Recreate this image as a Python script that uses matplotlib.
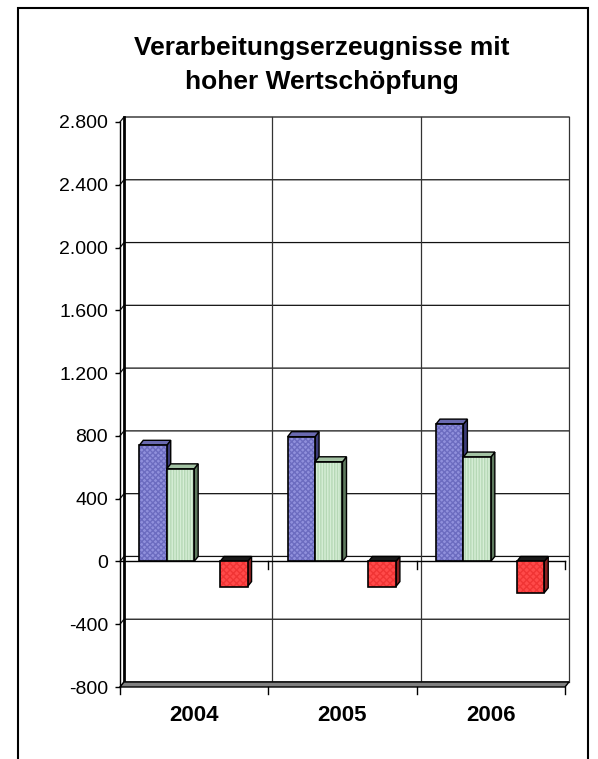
import matplotlib.pyplot as plt
from matplotlib.patches import Polygon, Rectangle

# values (3d-style Excel bar chart)
years = ["2004", "2005", "2006"]
vals_blue = [740, 795, 875]
vals_green = [590, 635, 665]
vals_red = [-160, -160, -200]
y_ticks = [-800, -400, 0, 400, 800, 1200, 1600, 2000, 2400, 2800]

plt.rcParams["font.family"] = ["Liberation Sans", "DejaVu Sans"]
plt.rcParams["hatch.linewidth"] = 1.0

W, H = 598, 759
fig = plt.figure(figsize=(W / 100, H / 100), dpi=100)
ax = fig.add_axes([120 / W, 72 / H, 445 / W, 565 / H])
ax.set_xlim(-0.5, 2.5)
ax.set_ylim(-800, 2800)
for name, s in ax.spines.items():
    s.set_visible(name == "left")
ax.spines["left"].set_linewidth(1)

# depth of the fake 3d, pixels turned into data units
dx = 4 * 3.0 / 445
dy = 5 * 3600.0 / 565
px_y = 3600.0 / 565

# back wall and left wall gridlines
for v in y_ticks:
    ax.plot([-0.5, -0.5 + dx, 2.5 + dx], [v, v + dy, v + dy], color="#111111",
            lw=0.9, clip_on=False, zorder=1)
for b in [0.5, 1.5, 2.5]:
    ax.plot([b + dx, b + dx], [-800 + dy, 2800 + dy], color="#333333", lw=0.9,
            clip_on=False, zorder=1)
ax.plot([-0.5 + dx, -0.5 + dx], [-800 + dy, 2800 + dy], color="black", lw=2,
        clip_on=False, zorder=1)

# floor
ax.add_patch(Polygon([(-0.5, -800), (2.5, -800), (2.5 + dx, -800 + dy), (-0.5 + dx, -800 + dy)],
                     closed=True, facecolor="#808080", edgecolor="black", lw=1,
                     clip_on=False, zorder=2))
for b in [-0.5, 0.5, 1.5, 2.5]:
    ax.plot([b, b], [-800, -800 - 7 * px_y], color="black", lw=1, clip_on=False, zorder=2)

# zero line at the front
ax.plot([-0.5, 2.5], [0, 0], color="black", lw=1, clip_on=False, zorder=2)
for b in [0.5, 1.5, 2.5]:
    ax.plot([b, b], [0, -8 * px_y], color="black", lw=1, clip_on=False, zorder=2)


def bar3d(x0, w, v, front, hatch, hcol, top, side, z):
    lo, hi = min(v, 0), max(v, 0)
    sp = [(x0 + w, lo), (x0 + w + dx, lo + dy), (x0 + w + dx, hi + dy), (x0 + w, hi)]
    tp = [(x0, hi), (x0 + w, hi), (x0 + w + dx, hi + dy), (x0 + dx, hi + dy)]
    ax.add_patch(Polygon(sp, closed=True, facecolor=side, edgecolor="black", lw=1,
                         clip_on=False, zorder=z))
    ax.add_patch(Polygon(tp, closed=True, facecolor=top, edgecolor="black", lw=1,
                         clip_on=False, zorder=z))
    ax.add_patch(Rectangle((x0, lo), w, hi - lo, facecolor=front, edgecolor=hcol,
                           hatch=hatch, lw=0, clip_on=False, zorder=z))
    ax.add_patch(Rectangle((x0, lo), w, hi - lo, fill=False, edgecolor="black",
                           lw=1.2, clip_on=False, zorder=z))


bw = 0.185
for i in range(len(years)):
    bar3d(i - 0.37, bw, vals_blue[i], "#9090dc", "xxxxxx", "#6c6cc0", "#6a6ab0", "#3c3c78", 3)
    bar3d(i - 0.185, bw, vals_green[i], "#d6eed6", "||||||", "#b6d8b6", "#a3c2a3", "#5e7a5e", 4)
    bar3d(i + 0.175, bw, vals_red[i], "#ff4a4a", "xxxxx", "#f03434", "#1a1a1a", "#8a2020", 5)

ax.set_yticks(y_ticks)
ax.set_yticklabels([f"{v:,}".replace(",", ".") for v in y_ticks])
ax.tick_params(axis="y", length=3.6, width=1, pad=5, labelsize=14)
ax.set_xticks(range(len(years)))
ax.set_xticklabels(years, fontweight="bold")
ax.tick_params(axis="x", length=0, pad=13, labelsize=16)

fig.text(322 / W, 1 - 65 / H, "Verarbeitungserzeugnisse mit\nhoher Wertschöpfung",
         ha="center", va="center", fontsize=19, fontweight="bold", linespacing=1.5)

# outer chart frame
fig.add_artist(Rectangle((18 / W, -0.05), 570 / W, 751 / H + 0.05, fill=False,
                         edgecolor="black", lw=1.5, transform=fig.transFigure))

fig.savefig("out.png", dpi=100)
